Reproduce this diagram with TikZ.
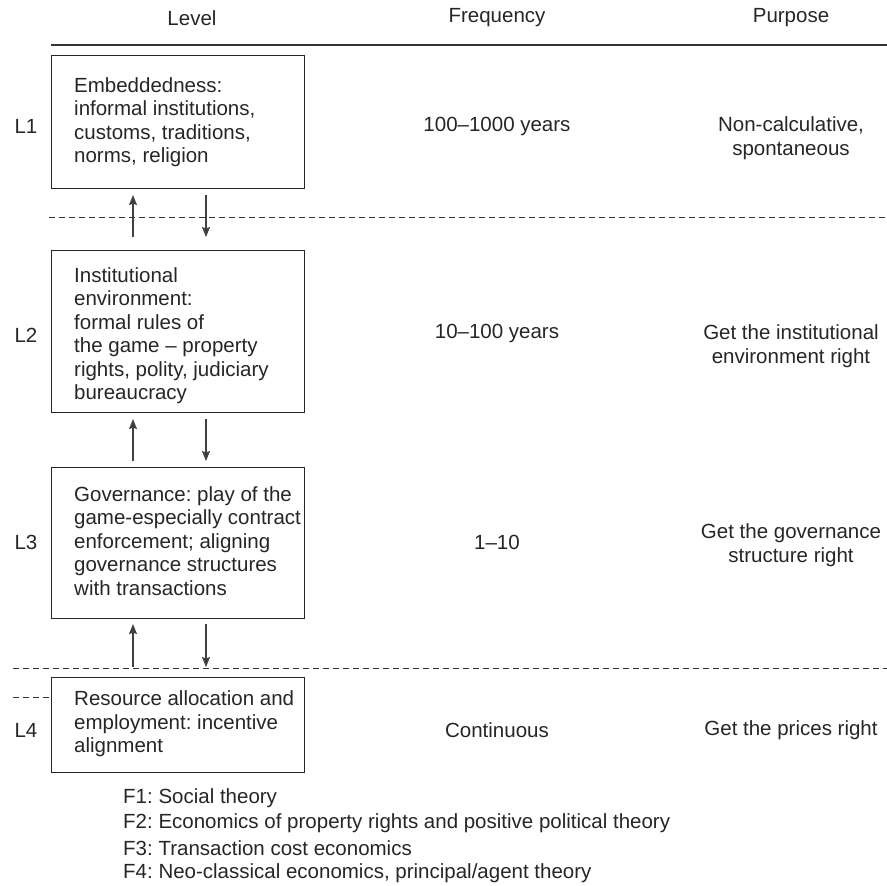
\documentclass[tikz,border=0pt]{standalone}
\usepackage{fontspec}
\setmainfont{Liberation Sans}
\usetikzlibrary{arrows.meta}
\frenchspacing
\begin{document}
\begin{tikzpicture}[x=1pt,y=-1pt,
  txt/.style={font=\fontsize{20.5}{23.5}\selectfont, text=black!85, inner sep=0pt},
  box/.style={draw=black!85, line width=1.1pt, anchor=north west, minimum width=253pt, inner sep=0pt},
  boxtext/.style={txt, anchor=west, align=left},
  coltext/.style={txt, align=center},
  arr/.style={draw=black!75, line width=1.1pt, -{Stealth[length=10pt,width=8pt,inset=1.5pt]}},
  dash line/.style={draw=black!80, line width=1pt, dash pattern=on 6pt off 4pt},
  rule/.style={draw=black!80, line width=1.3pt}]
\useasboundingbox (0,0) rectangle (887,886);

% header
\node[coltext] (hlevel) at (192,18) {Level};
\node[coltext] (hfreq) at (497,18) {Frequency};
\node[coltext] (hpurp) at (791,18) {Purpose};
\coordinate (rl) at (51,45);
\coordinate (rr) at (887,45);
\draw[rule] (rl) -- (rr);

% boxes
\node[box, minimum height=133pt] (b1) at (51,55) {};
\node[box, minimum height=162pt] (b2) at (51,250) {};
\node[box, minimum height=151pt] (b3) at (51,467) {};
\node[box, minimum height=95pt] (b4) at (51,677) {};

\node[boxtext] (t1) at ([shift={(23,0)}]b1.west)
  {Embeddedness:\\informal institutions,\\customs, traditions,\\norms, religion};
\node[boxtext] (t2) at ([shift={(23,4)}]b2.west)
  {Institutional\\environment:\\formal rules of\\the game -- property\\rights, polity, judiciary\\bureaucracy};
\node[boxtext] (t3) at ([shift={(23,-2)}]b3.west)
  {Governance: play of the\\game-especially contract\\enforcement; aligning\\governance structures\\with transactions};
\node[boxtext] (t4) at ([shift={(23,-1)}]b4.west)
  {Resource allocation and\\employment: incentive\\alignment};

% level labels
\node[coltext] (l1) at (26,126) {L1};
\node[coltext] (l2) at (26,335) {L2};
\node[coltext] (l3) at (26,542) {L3};
\node[coltext] (l4) at (26,730) {L4};

% frequency
\node[coltext] (f1) at (497,126) {100--1000 years};
\node[coltext] (f2) at (497,333) {10--100 years};
\node[coltext] (f3) at (497,542) {1--10};
\node[coltext] (f4) at (497,730) {Continuous};

% purpose
\node[coltext] (p1) at (791,138) {Non-calculative,\\spontaneous};
\node[coltext] (p2) at (791,346) {Get the institutional\\environment right};
\node[coltext] (p3) at (791,545) {Get the governance\\structure right};
\node[coltext] (p4) at (791,730) {Get the prices right};

% dashed lines
\coordinate (d1l) at (49,217);
\coordinate (d1r) at (887,217);
\draw[dash line] (d1l) -- (d1r);
\coordinate (d2l) at (13,668);
\coordinate (d2r) at (887,668);
\draw[dash line] (d2l) -- (d2r);
\coordinate (d3l) at (13,697);
\draw[dash line] (d3l) -- (d3l -| b4.west);

% arrows
\draw[arr] ([shift={(82,-13)}]b2.north west) -- ([shift={(82,6)}]b1.south west);
\draw[arr] ([shift={(155,6)}]b1.south west) -- ([shift={(155,-13)}]b2.north west);
\draw[arr] ([shift={(82,-6)}]b3.north west) -- ([shift={(82,6)}]b2.south west);
\draw[arr] ([shift={(155,6)}]b2.south west) -- ([shift={(155,-6)}]b3.north west);
\draw[arr] ([shift={(82,-10)}]b4.north west) -- ([shift={(82,5)}]b3.south west);
\draw[arr] ([shift={(155,5)}]b3.south west) -- ([shift={(155,-10)}]b4.north west);

% footnotes
\node[txt, anchor=west] (n1) at (123,798) {F1: Social theory};
\node[txt, anchor=west] (n2) at (123,823) {F2: Economics of property rights and positive political theory};
\node[txt, anchor=west] (n3) at (123,848) {F3: Transaction cost economics};
\node[txt, anchor=west] (n4) at (123,873) {F4: Neo-classical economics, principal/agent theory};
\end{tikzpicture}
\end{document}
